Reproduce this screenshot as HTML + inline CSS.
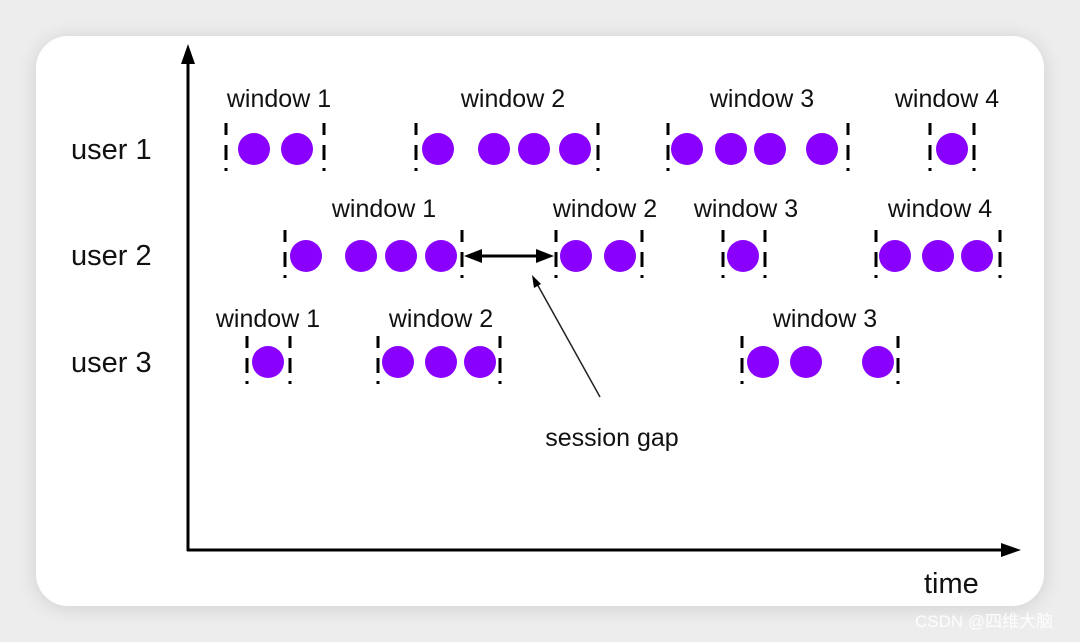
<!DOCTYPE html>
<html><head><meta charset="utf-8"><style>
html,body{margin:0;padding:0;background:#ededed;width:1080px;height:642px;overflow:hidden}
</style></head><body>
<svg width="1080" height="642" xmlns="http://www.w3.org/2000/svg" font-family="Liberation Sans, Arial, sans-serif">
<defs>
<filter id="sh" x="-10%" y="-10%" width="120%" height="120%"><feGaussianBlur stdDeviation="10"/></filter>
</defs>
<rect x="0" y="0" width="1080" height="642" fill="#ededed"/>
<rect x="36" y="38" width="1008" height="570" rx="32" fill="#000" opacity="0.12" filter="url(#sh)"/>
<rect x="36" y="36" width="1008" height="570" rx="32" fill="#fff"/>
<g stroke="#000" stroke-width="3" fill="none">
<line x1="188" y1="60" x2="188" y2="551"/>
<line x1="187" y1="550" x2="1005" y2="550"/>
</g>
<polygon points="188,44 181,64 195,64" fill="#000"/>
<polygon points="1021,550 1001,543 1001,557" fill="#000"/>
<g font-size="29" fill="#111">
<text x="71" y="159">user 1</text>
<text x="71" y="265">user 2</text>
<text x="71" y="372">user 3</text>
</g>
<g font-size="25" fill="#111" text-anchor="middle">
<text x="279" y="107">window 1</text>
<text x="513" y="107">window 2</text>
<text x="762" y="107">window 3</text>
<text x="947" y="107">window 4</text>
<text x="384" y="217">window 1</text>
<text x="605" y="217">window 2</text>
<text x="746" y="217">window 3</text>
<text x="940" y="217">window 4</text>
<text x="268" y="327">window 1</text>
<text x="441" y="327">window 2</text>
<text x="825" y="327">window 3</text>
<text x="612" y="446" font-size="25">session gap</text>
</g>
<text x="924" y="593" font-size="29" fill="#111">time</text>
<g stroke="#000" stroke-width="3" stroke-dasharray="12 10 15 8 3 100">
<line x1="226" y1="123" x2="226" y2="175"/><line x1="324" y1="123" x2="324" y2="175"/>
<line x1="416" y1="123" x2="416" y2="175"/><line x1="598" y1="123" x2="598" y2="175"/>
<line x1="668" y1="123" x2="668" y2="175"/><line x1="848" y1="123" x2="848" y2="175"/>
<line x1="930" y1="123" x2="930" y2="175"/><line x1="974" y1="123" x2="974" y2="175"/>
<line x1="285" y1="230" x2="285" y2="282"/><line x1="462" y1="230" x2="462" y2="282"/>
<line x1="556" y1="230" x2="556" y2="282"/><line x1="642" y1="230" x2="642" y2="282"/>
<line x1="723" y1="230" x2="723" y2="282"/><line x1="765" y1="230" x2="765" y2="282"/>
<line x1="876" y1="230" x2="876" y2="282"/><line x1="1000" y1="230" x2="1000" y2="282"/>
<line x1="247" y1="336" x2="247" y2="388"/><line x1="290" y1="336" x2="290" y2="388"/>
<line x1="378" y1="336" x2="378" y2="388"/><line x1="500" y1="336" x2="500" y2="388"/>
<line x1="742" y1="336" x2="742" y2="388"/><line x1="898" y1="336" x2="898" y2="388"/>
</g>
<g fill="#8a00ff">
<circle cx="254" cy="149" r="16"/><circle cx="297" cy="149" r="16"/>
<circle cx="438" cy="149" r="16"/><circle cx="494" cy="149" r="16"/><circle cx="534" cy="149" r="16"/><circle cx="575" cy="149" r="16"/>
<circle cx="687" cy="149" r="16"/><circle cx="731" cy="149" r="16"/><circle cx="770" cy="149" r="16"/><circle cx="822" cy="149" r="16"/>
<circle cx="952" cy="149" r="16"/>
<circle cx="306" cy="256" r="16"/><circle cx="361" cy="256" r="16"/><circle cx="401" cy="256" r="16"/><circle cx="441" cy="256" r="16"/>
<circle cx="576" cy="256" r="16"/><circle cx="620" cy="256" r="16"/>
<circle cx="743" cy="256" r="16"/>
<circle cx="895" cy="256" r="16"/><circle cx="938" cy="256" r="16"/><circle cx="977" cy="256" r="16"/>
<circle cx="268" cy="362" r="16"/>
<circle cx="398" cy="362" r="16"/><circle cx="441" cy="362" r="16"/><circle cx="480" cy="362" r="16"/>
<circle cx="763" cy="362" r="16"/><circle cx="806" cy="362" r="16"/><circle cx="878" cy="362" r="16"/>
</g>
<line x1="478" y1="256" x2="540" y2="256" stroke="#000" stroke-width="3"/>
<polygon points="464,256 482,249 482,263" fill="#000"/>
<polygon points="554,256 536,249 536,263" fill="#000"/>
<line x1="600" y1="397" x2="536" y2="282" stroke="#222" stroke-width="1.5"/>
<polygon points="532,275 534,288 541,284" fill="#000"/>
<text x="915" y="627" font-size="17" fill="#fff" opacity="0.9" font-family="Liberation Sans, Noto Sans CJK SC, sans-serif">CSDN @四维大脑</text>
</svg>
</body></html>
